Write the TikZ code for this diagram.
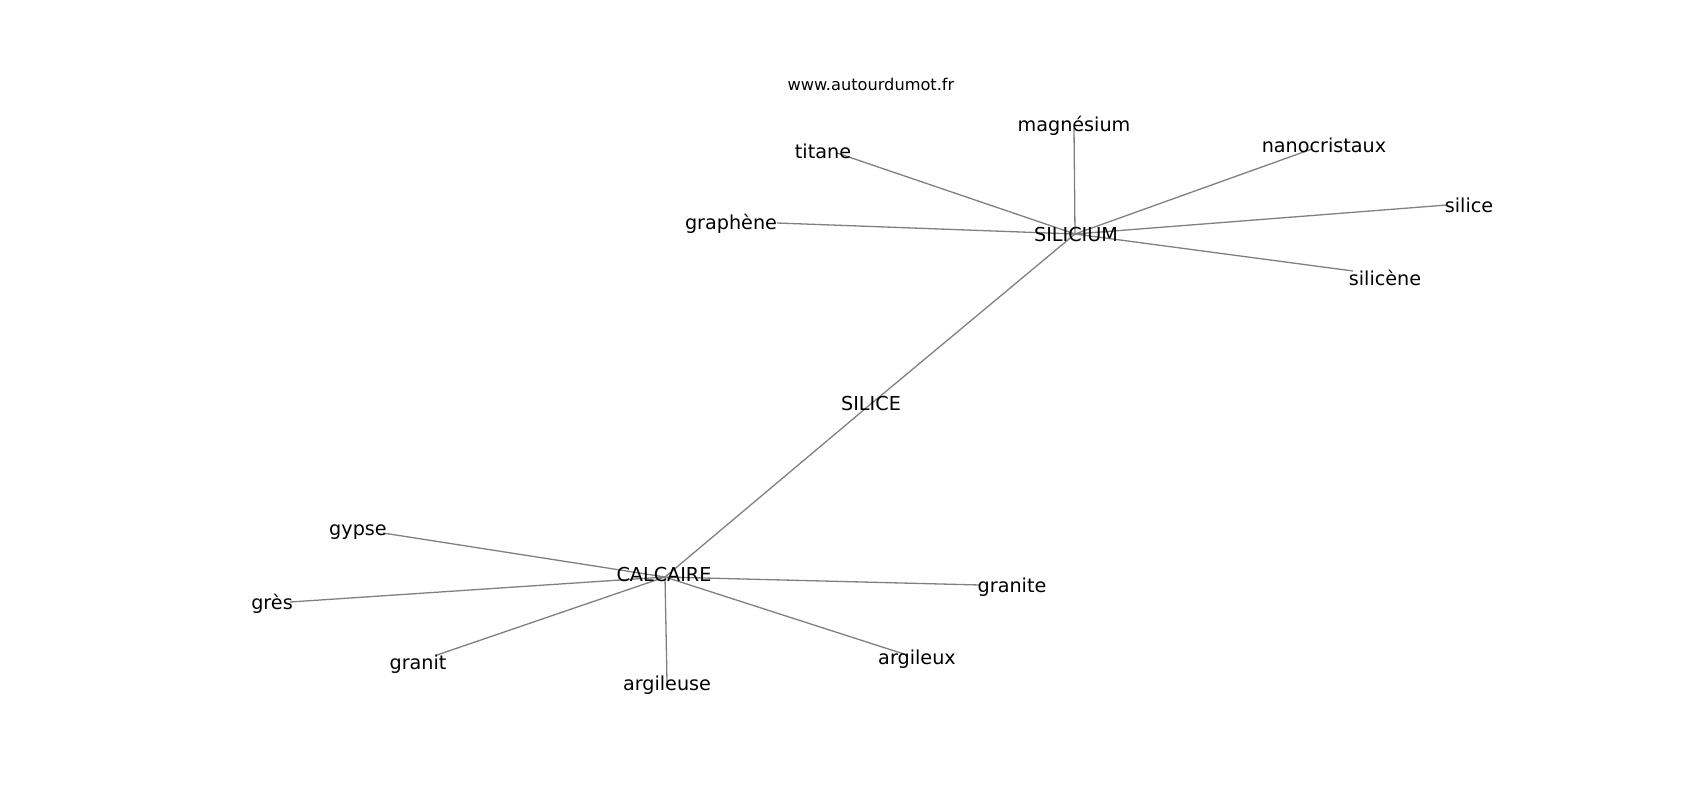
\documentclass[tikz,border=0pt]{standalone}
\usepackage{fontspec}
\setmainfont{DejaVu Sans}
\begin{document}
\begin{tikzpicture}[x=1pt,y=-1pt,
  word/.style={inner sep=0pt,text=black,yshift=-2pt,font=\fontsize{19.2}{22}\selectfont},
  site/.style={inner sep=0pt,text=black,yshift=-1pt,font=\fontsize{16.2}{19}\selectfont},
  edge/.style={draw=black!50,line width=1.3pt}]
\useasboundingbox[fill=white] (0,0) rectangle (1700,800);
% hubs and edge ends
\coordinate (h1) at (1075,234);
\coordinate (h2) at (665,577);
\coordinate (hs) at (872,403);
\coordinate (e-titane) at (837,153);
\coordinate (e-magn) at (1074,128);
\coordinate (e-nano) at (1312,149);
\coordinate (e-silice) at (1447,205);
\coordinate (e-silicene) at (1353,271);
\coordinate (e-graph) at (777,223);
\coordinate (e-gypse) at (383,533);
\coordinate (e-gres) at (290,602);
\coordinate (e-granit) at (437,655);
\coordinate (e-argileuse) at (667,682);
\coordinate (e-argileux) at (907,655);
\coordinate (e-granite) at (980,585);
% edges
\draw[edge] (h1) -- (hs) -- (h2);
\foreach \e in {titane,magn,nano,silice,silicene,graph}
  \draw[edge] (h1) -- (e-\e);
\foreach \e in {gypse,gres,granit,argileuse,argileux,granite}
  \draw[edge] (h2) -- (e-\e);
% labels
\node[site] (www) at (871,83) {www.autourdumot.fr};
\node[word] (silicium) at (1076,233) {SILICIUM};
\node[word] (siliceC) at (871,402) {SILICE};
\node[word] (calcaire) at (664,573) {CALCAIRE};
\node[word] (titane) at (823,149) {titane};
\node[word] (magn) at (1074,124) {magnésium};
\node[word] (nano) at (1324,143) {nanocristaux};
\node[word] (silice) at (1469,203) {silice};
\node[word] (silicene) at (1385,276) {silicène};
\node[word] (graph) at (731,222) {graphène};
\node[word] (gypse) at (358,530) {gypse};
\node[word] (gres) at (272,602) {grès};
\node[word] (granit) at (418,662) {granit};
\node[word] (argileuse) at (667,683) {argileuse};
\node[word] (argileux) at (917,657) {argileux};
\node[word] (granite) at (1012,585) {granite};
\end{tikzpicture}
\end{document}
